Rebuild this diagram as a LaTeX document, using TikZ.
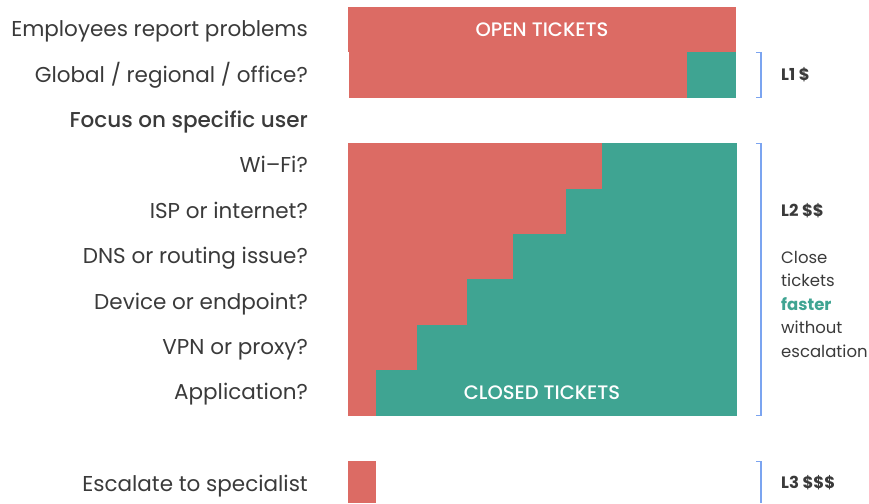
\documentclass[tikz,border=0pt]{standalone}
\usepackage{fontspec}
\setmainfont{Poppins}
\newfontfamily\popmed{Poppins Medium}
\definecolor{redbar}{HTML}{DC6B64}
\definecolor{tealbar}{HTML}{3FA492}
\definecolor{txt}{HTML}{3A3A3A}
\definecolor{brk}{HTML}{7BA4F0}
\begin{document}
\begin{tikzpicture}[x=1pt,y=-1pt,
  lab/.style={anchor=base east,inner sep=0pt,text=txt,font=\fontsize{21.5}{26}\selectfont},
  rlab/.style={anchor=base west,inner sep=0pt,text=txt,font=\fontsize{16.5}{20}\selectfont},
  rbold/.style={rlab,font=\fontsize{16.5}{20}\selectfont\fontseries{sb}\selectfont},
  bartxt/.style={text=white,inner sep=0pt,font=\popmed\fontsize{19.5}{24}\selectfont},
  bracket/.style={draw=brk,line width=1.3pt}]
\useasboundingbox (0,0) rectangle (869,503);
% bars
\fill[redbar] (348,7) rectangle (736,52.4);
\fill[redbar] (349,52.4) rectangle (687,97.8);
\fill[tealbar] (687,52.4) rectangle (736,97.8);
\foreach \t/\r in {143.2/602,188.6/566,234/513,279.4/467,324.8/417,370.2/376}{
  \fill[redbar] (348,\t) rectangle (\r,\t+45.4);
  \fill[tealbar] (\r,\t) rectangle (737,\t+45.4);
}
\fill[redbar] (348,461) rectangle (376,503);
\node[bartxt] (open) at (542,29.7) {OPEN TICKETS};
\node[bartxt] (closed) at (542,392.9) {CLOSED TICKETS};
% left labels
\node[lab] (l1) at (308,36.5) {Employees report problems};
\node[lab] (l2) at (308,82) {Global / regional / office?};
\node[lab,font=\popmed\fontsize{21.5}{26}\selectfont] (l3) at (308,127.4) {Focus on specific user};
\node[lab] (l4) at (308,172.8) {Wi–Fi?};
\node[lab] (l5) at (308,218.2) {ISP or internet?};
\node[lab] (l6) at (308,263.6) {DNS or routing issue?};
\node[lab] (l7) at (308,309) {Device or endpoint?};
\node[lab] (l8) at (308,354.4) {VPN or proxy?};
\node[lab] (l9) at (308,399.8) {Application?};
\node[lab] (l11) at (308,491) {Escalate to specialist};
% brackets
\draw[bracket] (756,52.8) -- (761,52.8) -- (761,97.4) -- (756,97.4);
\draw[bracket] (756,143.6) -- (761,143.6) -- (761,415.6) -- (756,415.6);
\draw[bracket] (756,461.4) -- (761,461.4) -- (761,503);
% right labels
\node[rbold] (r1) at (781,80) {L1 \$};
\node[rbold] (r2) at (781,216) {L2 \$\$};
\node[rlab] (c1) at (781,263) {Close};
\node[rlab] (c2) at (781,286.5) {tickets};
\node[rbold,text=tealbar] (c3) at (781,310) {faster};
\node[rlab] (c4) at (781,333.5) {without};
\node[rlab] (c5) at (781,357) {escalation};
\node[rbold] (r3) at (781,488) {L3 \$\$\$};
\end{tikzpicture}
\end{document}
